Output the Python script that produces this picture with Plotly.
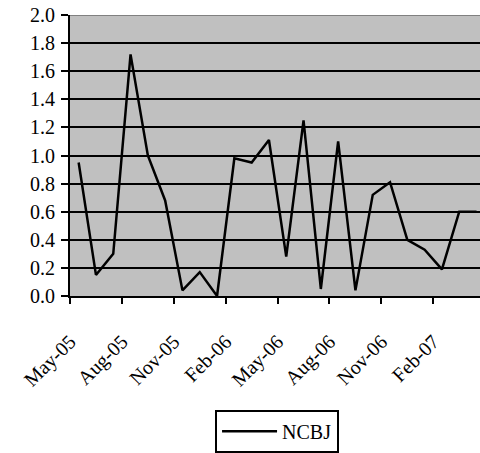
import plotly.graph_objects as go

months = ["May-05","Jun-05","Jul-05","Aug-05","Sep-05","Oct-05","Nov-05","Dec-05",
          "Jan-06","Feb-06","Mar-06","Apr-06","May-06","Jun-06","Jul-06","Aug-06",
          "Sep-06","Oct-06","Nov-06","Dec-06","Jan-07","Feb-07","Mar-07","Apr-07"]
ncbj = [0.95, 0.15, 0.30, 1.72, 1.00, 0.68, 0.04, 0.17, 0.00, 0.98, 0.95, 1.11,
        0.28, 1.25, 0.05, 1.10, 0.04, 0.72, 0.81, 0.40, 0.33, 0.19, 0.60, 0.60]
tick_labels = ["May-05","Aug-05","Nov-05","Feb-06","May-06","Aug-06","Nov-06","Feb-07"]
y_ticks = [0.0, 0.2, 0.4, 0.6, 0.8, 1.0, 1.2, 1.4, 1.6, 1.8, 2.0]

xs = list(range(len(months)))
tick_pos = [months.index(m) - 0.5 for m in tick_labels]

FAMILY = "Liberation Serif"
font = dict(family=FAMILY, size=20, color="black")

fig = go.Figure()
fig.add_trace(go.Scatter(x=xs, y=ncbj, mode="lines", name="NCBJ",
                         line=dict(color="black", width=2.5), cliponaxis=False))

fig.update_layout(
    width=480, height=453,
    margin=dict(l=70, r=0, t=15, b=154),
    paper_bgcolor="white", plot_bgcolor="#C0C0C0",
    font=font,
    showlegend=True,
    legend=dict(x=0.505, y=-0.405, xanchor="center", yanchor="top",
                bordercolor="black", borderwidth=2, bgcolor="white",
                itemwidth=55, font=font),
)
fig.update_xaxes(range=[-0.5, 23.2], tickmode="array", tickvals=tick_pos,
                 ticktext=tick_labels, tickangle=-45, showgrid=False,
                 showline=True, linecolor="black", linewidth=2,
                 ticks="outside", ticklen=6, tickwidth=2, tickcolor="black",
                 zeroline=False, ticklabelstandoff=18, tickfont=font)
fig.update_yaxes(range=[0, 2.0], tickmode="array", tickvals=y_ticks,
                 ticktext=[f"{v:.1f}" for v in y_ticks],
                 showgrid=True, gridcolor="black", gridwidth=2,
                 showline=True, linecolor="black", linewidth=2,
                 ticks="outside", ticklen=7, tickwidth=2, tickcolor="black",
                 zeroline=False, ticklabelstandoff=2, tickfont=font)
fig.add_shape(type="line", xref="paper", yref="y", x0=0, x1=1, y0=2.0, y1=2.0,
              line=dict(color="#808080", width=2), layer="above")

fig.write_html("out.html")
